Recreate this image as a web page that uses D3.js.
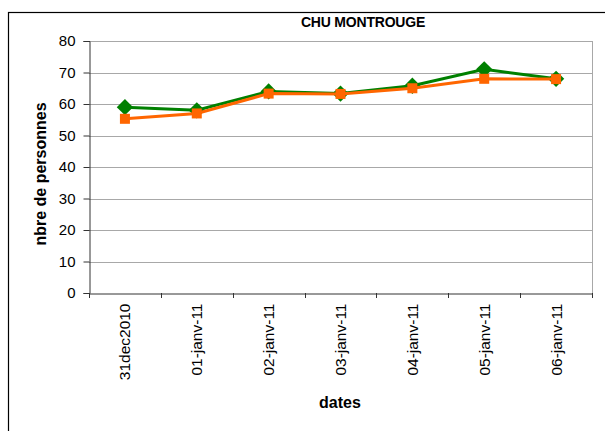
<!DOCTYPE html>
<html><head><meta charset="utf-8">
<script src="https://cdn.jsdelivr.net/npm/d3@7"></script>
<style>body{margin:0;background:#fff;} text{font-family:"Liberation Sans",Arial,sans-serif;}</style>
</head><body>
<svg id="c" width="605" height="431"></svg>
<script>
const categories = ["31dec2010","01-janv-11","02-janv-11","03-janv-11","04-janv-11","05-janv-11","06-janv-11"];
const seriesGreen = [59, 58, 64, 63.3, 65.8, 71, 68];
const seriesOrange = [55.3, 57, 63.3, 63.2, 65, 68, 67.9];
const yTicks = [0,10,20,30,40,50,60,70,80];

const svg = d3.select("#c");
const m = {left:89, top:41, right:592, bottom:293};
svg.append("rect").attr("x",8.5).attr("y",12.5).attr("width",640).attr("height",460)
  .attr("fill","#fff").attr("stroke","#000").attr("stroke-width",1.2);

const x = d3.scaleBand().domain(categories).range([m.left, m.right]);
const y = d3.scaleLinear().domain([0,80]).range([m.bottom, m.top]);

// gridlines
svg.append("g").selectAll("line").data(yTicks.slice(1)).join("line")
  .attr("x1",m.left).attr("x2",m.right)
  .attr("y1",d=>Math.round(y(d))+0.5).attr("y2",d=>Math.round(y(d))+0.5)
  .attr("stroke","#a8a8a8").attr("stroke-width",1);
svg.append("line").attr("x1",m.right+0.5).attr("x2",m.right+0.5).attr("y1",m.top).attr("y2",m.bottom)
  .attr("stroke","#a8a8a8");

// y axis
const ya = svg.append("g").attr("transform",`translate(${m.left+0.5},0)`)
  .call(d3.axisLeft(y).tickValues(yTicks).tickSize(6).tickPadding(8));
ya.select(".domain").attr("stroke","#333");
ya.selectAll(".tick line").attr("stroke","#333");
ya.selectAll("text").attr("font-size",15).attr("fill","#000");

// x axis
const xa = svg.append("g").attr("transform",`translate(0,${Math.round(m.bottom)+0.5})`)
  .call(d3.axisBottom(x).tickSize(0).tickPadding(0));
xa.select(".domain").attr("stroke","#333");
xa.selectAll(".tick text").attr("font-size",15.5).attr("fill","#000")
  .attr("transform","rotate(-90)").attr("text-anchor","end").attr("dx","-10").attr("dy","0.35em").attr("y",0).attr("x",0);
// boundary ticks
svg.append("g").selectAll("line").data(categories.concat(["__end"])).join("line")
  .attr("x1",(d,i)=>Math.round(i<categories.length?x(d):m.right)+0.5)
  .attr("x2",(d,i)=>Math.round(i<categories.length?x(d):m.right)+0.5)
  .attr("y1",m.bottom).attr("y2",m.bottom+5).attr("stroke","#333");

const cx = d=>x(d)+x.bandwidth()/2;
const line = d3.line().x((d,i)=>cx(categories[i])).y(d=>y(d));

svg.append("path").datum(seriesGreen).attr("d",line).attr("fill","none").attr("stroke","#008000").attr("stroke-width",3);
svg.append("g").selectAll("path").data(seriesGreen).join("path")
  .attr("d",d3.symbol().type(d3.symbolDiamond2).size(170)())
  .attr("transform",(d,i)=>`translate(${cx(categories[i])},${y(d)})`)
  .attr("fill","#008000");

svg.append("path").datum(seriesOrange).attr("d",line).attr("fill","none").attr("stroke","#ff6600").attr("stroke-width",3);
svg.append("g").selectAll("rect").data(seriesOrange).join("rect")
  .attr("x",(d,i)=>cx(categories[i])-5).attr("y",d=>y(d)-5).attr("width",10).attr("height",10)
  .attr("fill","#ff6600");

svg.append("text").attr("x",363).attr("y",27).attr("text-anchor","middle")
  .attr("font-size",14).attr("font-weight","bold").attr("letter-spacing","-0.2").text("CHU MONTROUGE");
svg.append("text").attr("transform","translate(46,174) rotate(-90)").attr("text-anchor","middle")
  .attr("font-size",16).attr("font-weight","bold").text("nbre de personnes");
svg.append("text").attr("x",340).attr("y",408).attr("text-anchor","middle")
  .attr("font-size",16).attr("font-weight","bold").text("dates");
</script>
</body></html>
